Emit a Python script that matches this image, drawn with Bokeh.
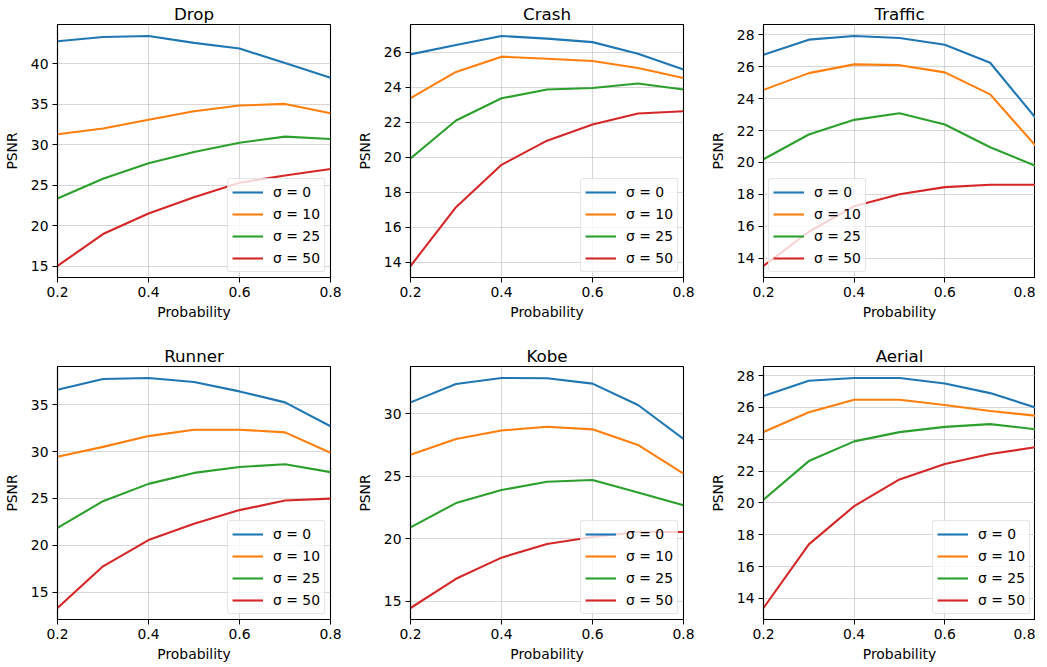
from bokeh.plotting import figure
from bokeh.models import Range1d, FixedTicker
from bokeh.layouts import column, row
from bokeh.embed import file_html
from bokeh.resources import INLINE

probability = [0.2, 0.3, 0.4, 0.5, 0.6, 0.7, 0.8]
sigma_labels = ["σ = 0", "σ = 10", "σ = 25", "σ = 50"]
colors = ["#1f77b4", "#ff7f0e", "#2ca02c", "#d62728"]
x_ticks = [0.2, 0.4, 0.6, 0.8]

drop_s0 = [42.8, 43.33, 43.45, 42.6, 41.9, 40.1, 38.3]
drop_s10 = [31.3, 32.0, 33.1, 34.15, 34.85, 35.05, 33.9]
drop_s25 = [23.35, 25.8, 27.7, 29.1, 30.25, 31.0, 30.7]
drop_s50 = [15.0, 18.95, 21.5, 23.5, 25.3, 26.2, 27.0]
drop_yticks = [15, 20, 25, 30, 35, 40]

crash_s0 = [25.88, 26.42, 26.93, 26.78, 26.58, 25.92, 25.02]
crash_s10 = [23.38, 24.88, 25.75, 25.63, 25.5, 25.1, 24.53]
crash_s25 = [19.93, 22.1, 23.37, 23.87, 23.96, 24.22, 23.87]
crash_s50 = [13.79, 17.15, 19.57, 20.95, 21.87, 22.5, 22.63]
crash_yticks = [14, 16, 18, 20, 22, 24, 26]

traffic_s0 = [26.75, 27.7, 27.93, 27.8, 27.38, 26.25, 22.8]
traffic_s10 = [24.55, 25.6, 26.15, 26.1, 25.65, 24.27, 21.05]
traffic_s25 = [20.2, 21.75, 22.67, 23.08, 22.38, 20.95, 19.78]
traffic_s50 = [13.5, 15.65, 17.25, 18.0, 18.45, 18.6, 18.6]
traffic_yticks = [14, 16, 18, 20, 22, 24, 26, 28]

runner_s0 = [36.6, 37.75, 37.85, 37.42, 36.42, 35.25, 32.7]
runner_s10 = [29.45, 30.5, 31.65, 32.33, 32.33, 32.05, 29.87]
runner_s25 = [21.85, 24.7, 26.55, 27.72, 28.35, 28.65, 27.8]
runner_s50 = [13.3, 17.75, 20.55, 22.3, 23.75, 24.77, 24.97]
runner_yticks = [15, 20, 25, 30, 35]

kobe_s0 = [30.93, 32.4, 32.88, 32.86, 32.43, 30.72, 28.0]
kobe_s10 = [26.74, 28.0, 28.68, 28.98, 28.77, 27.52, 25.22]
kobe_s25 = [20.92, 22.87, 23.91, 24.58, 24.71, 23.72, 22.69]
kobe_s50 = [14.47, 16.81, 18.5, 19.59, 20.15, 20.55, 20.55]
kobe_yticks = [15, 20, 25, 30]

aerial_s0 = [26.72, 27.68, 27.85, 27.85, 27.5, 26.9, 26.0]
aerial_s10 = [24.46, 25.7, 26.48, 26.48, 26.15, 25.78, 25.48]
aerial_s25 = [20.2, 22.63, 23.87, 24.45, 24.78, 24.95, 24.63]
aerial_s50 = [13.4, 17.4, 19.8, 21.48, 22.45, 23.08, 23.5]
aerial_yticks = [14, 16, 18, 20, 22, 24, 26, 28]

FONT = "DejaVu Sans"
TICK_FS = "13.9px"


def make_panel(title, series, yticks, fw, b_top, b_bottom, b_right, legend_loc):
    vals = [v for s in series for v in s]
    lo, hi = min(vals), max(vals)
    pad = 0.05 * (hi - lo)
    p = figure(frame_width=fw, frame_height=253, output_backend="svg", toolbar_location=None,
               x_range=Range1d(0.2, 0.8), y_range=Range1d(lo - pad, hi + pad),
               min_border_left=51, min_border_right=b_right,
               min_border_top=b_top, min_border_bottom=b_bottom)
    p.title.text = title
    p.title.align = "center"
    p.title.text_font = FONT
    p.title.text_font_style = "normal"
    p.title.text_font_size = "16.7px"
    p.title.text_color = "black"
    p.title.standoff = 2
    p.title.offset = 0

    for s, lab, c in zip(series, sigma_labels, colors):
        p.line(probability, s, line_color=c, line_width=2.1, legend_label=lab)

    p.xaxis.ticker = FixedTicker(ticks=x_ticks)
    p.yaxis.ticker = FixedTicker(ticks=yticks)
    p.xaxis.axis_label = "Probability"
    p.yaxis.axis_label = "PSNR"
    for ax in (p.xaxis, p.yaxis):
        ax.major_tick_in = 0
        ax.major_tick_out = 5
        ax.minor_tick_in = 0
        ax.minor_tick_out = 0
        ax.major_tick_line_color = "black"
        ax.axis_line_color = "black"
        ax.axis_line_width = 1.1
        ax.major_label_text_font = FONT
        ax.major_label_text_font_size = TICK_FS
        ax.major_label_text_color = "black"
        ax.axis_label_text_font = FONT
        ax.axis_label_text_font_size = TICK_FS
        ax.axis_label_text_font_style = "normal"
        ax.axis_label_text_color = "black"
        ax.major_label_standoff = 4
    p.xaxis.axis_label_standoff = 4
    p.yaxis.axis_label_standoff = 8
    p.yaxis.major_label_orientation = "horizontal"

    p.xgrid.ticker = FixedTicker(ticks=x_ticks)
    p.ygrid.ticker = FixedTicker(ticks=yticks)
    p.grid.grid_line_color = "#b0b0b0"
    p.grid.grid_line_alpha = 0.5
    p.grid.grid_line_width = 1.1

    p.outline_line_color = "black"
    p.outline_line_width = 1.1
    p.outline_line_alpha = 1.0

    lg = p.legend[0]
    lg.location = legend_loc
    lg.label_text_font = FONT
    lg.label_text_font_size = TICK_FS
    lg.label_text_color = "black"
    lg.glyph_width = 31
    lg.glyph_height = 18
    lg.label_height = 18
    lg.label_standoff = 10
    lg.spacing = 4
    lg.padding = 4
    lg.margin = 5
    lg.border_line_color = "#cccccc"
    lg.border_line_width = 1.1
    lg.background_fill_alpha = 0.8
    if "border_radius" in lg.properties():
        lg.border_radius = 3
    p.background_fill_color = "white"
    p.border_fill_color = "white"
    return p


p1 = make_panel("Drop", [drop_s0, drop_s10, drop_s25, drop_s50], drop_yticks, 273, 19, 65, 23, "bottom_right")
p2 = make_panel("Crash", [crash_s0, crash_s10, crash_s25, crash_s50], crash_yticks, 273, 19, 65, 23, "bottom_right")
p3 = make_panel("Traffic", [traffic_s0, traffic_s10, traffic_s25, traffic_s50], traffic_yticks, 272, 19, 65, 0, "bottom_left")
p4 = make_panel("Runner", [runner_s0, runner_s10, runner_s25, runner_s50], runner_yticks, 273, 19, 38, 23, "bottom_right")
p5 = make_panel("Kobe", [kobe_s0, kobe_s10, kobe_s25, kobe_s50], kobe_yticks, 273, 19, 38, 23, "bottom_right")
p6 = make_panel("Aerial", [aerial_s0, aerial_s10, aerial_s25, aerial_s50], aerial_yticks, 272, 19, 38, 0, "bottom_right")

layout = column(row(p1, p2, p3), row(p4, p5, p6))

open("out.html", "w").write(file_html(layout, INLINE))
